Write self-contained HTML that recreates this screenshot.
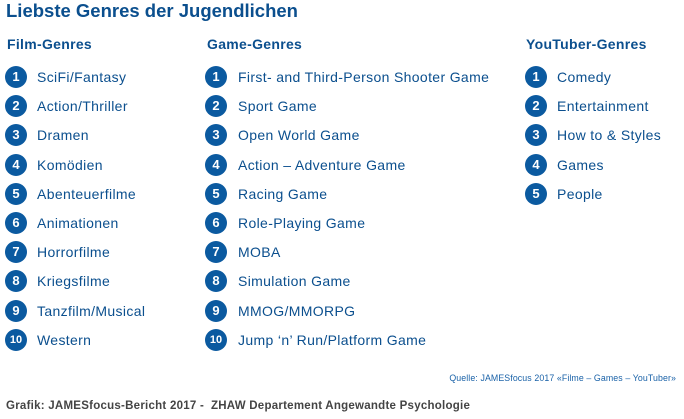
<!DOCTYPE html>
<html><head><meta charset="utf-8"><style>
body{margin:0;width:684px;height:419px;background:#fff;position:relative;overflow:hidden;font-family:"Liberation Sans",Arial,sans-serif;color:#0b4f8e}
.a{position:absolute;white-space:nowrap}
.t{left:6px;top:0px;font-size:18.5px;font-weight:bold}
.h{font-size:14px;font-weight:bold;top:36px;letter-spacing:0.3px}
.c{position:absolute;width:22px;height:22px;border-radius:50%;background:#0b5aa0;color:#fff;font-weight:bold;font-size:13px;text-align:center;line-height:22px}
.i{position:absolute;font-size:14px;line-height:20px;white-space:nowrap;color:#0b4f8e;letter-spacing:0.35px}
</style></head><body>
<div class="a t">Liebste Genres der Jugendlichen</div>
<div class="a h" style="left:7px">Film-Genres</div>
<div class="a h" style="left:207px">Game-Genres</div>
<div class="a h" style="left:526px">YouTuber-Genres</div>
<div id="L"></div>
<div class="a" style="right:8px;top:373px;font-size:8.8px;letter-spacing:0.1px;color:#1a62a8">Quelle: JAMESfocus 2017 «Filme – Games – YouTuber»</div>
<div class="a" style="left:6px;top:400px;font-size:11.5px;font-weight:bold;color:#444;letter-spacing:0.25px">Grafik: JAMESfocus-Bericht 2017 -&nbsp; ZHAW Departement Angewandte Psychologie</div>
<script>
var cols=[[5,37,["SciFi/Fantasy","Action/Thriller","Dramen","Komödien","Abenteuerfilme","Animationen","Horrorfilme","Kriegsfilme","Tanzfilm/Musical","Western"]],
[205,238,["First- and Third-Person Shooter Game","Sport Game","Open World Game","Action – Adventure Game","Racing Game","Role-Playing Game","MOBA","Simulation Game","MMOG/MMORPG","Jump ‘n’ Run/Platform Game"]],
[525,557,["Comedy","Entertainment","How to & Styles","Games","People"]]];
var h="";
cols.forEach(function(c){c[2].forEach(function(s,k){var y=77+k*29.2;
var fs=k==9?"font-size:11px;":"";
h+='<div class="c" style="left:'+c[0]+'px;top:'+(y-11)+'px;'+fs+'">'+(k+1)+'</div>';
h+='<div class="i" style="left:'+c[1]+'px;top:'+(y-10)+'px">'+s+'</div>';});});
document.getElementById("L").innerHTML=h;
</script>
</body></html>
